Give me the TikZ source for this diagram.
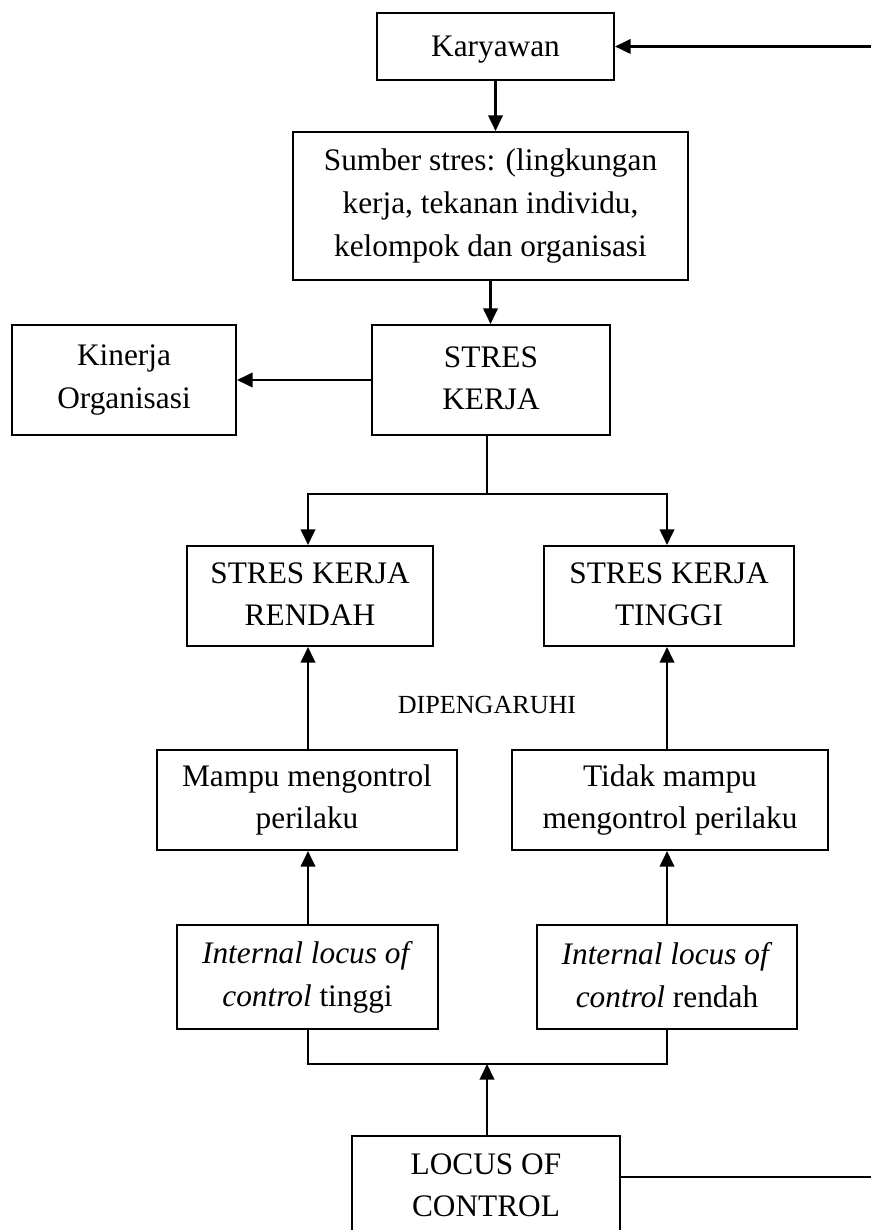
\documentclass[tikz,border=0pt]{standalone}
\usepackage{fontspec}
\setmainfont{Liberation Serif}
\usepackage{tikz}
\usetikzlibrary{arrows.meta}
\usetikzlibrary{calc}

\def\px{0.383pt}
\def\thickness{0.8pt}
\tikzstyle{thick}=[line width=\thickness]
\tikzset{box/.style={draw, thick, rectangle, align=center, inner sep=0pt,
    font=\fontsize{12}{16.4}\selectfont,
    execute at begin node={\rule{0pt}{10pt}},
    execute at end node={\rule[-1.5pt]{0pt}{1.5pt}}}}
\tikzset{arrow/.style={thick, -{Triangle[length=6pt,width=5.6pt]}}}

\begin{document}
\begin{tikzpicture}[x=\px, y=-\px] %% 1 unit = 1 px of the figure

\useasboundingbox (0,0) rectangle (871,1230);

%% boxes
\node [box, minimum width=237*\px, minimum height=67*\px] (karyawan) at (495.5,46.5) {Karyawan};
\node [box, minimum width=395*\px, minimum height=148*\px] (sumber) at (490.5,206) {Sumber stres: (lingkungan\\kerja, tekanan individu,\\kelompok dan organisasi};
\node [box, minimum width=238*\px, minimum height=110*\px] (stres) at (491,380) {STRES\\KERJA};
\node [box, minimum width=224*\px, minimum height=110*\px] (kinerja) at (124,380) {Kinerja\\Organisasi};
\node [box, minimum width=246*\px, minimum height=100*\px] (rendah) at (310,596) {STRES KERJA\\RENDAH};
\node [box, minimum width=250*\px, minimum height=100*\px] (tinggi) at (669,596) {STRES KERJA\\TINGGI};
\node [font=\fontsize{10}{12}\selectfont] (dipengaruhi) at (487,705) {DIPENGARUHI};
\node [box, minimum width=300*\px, minimum height=100*\px] (mampu) at (307,800) {Mampu mengontrol\\perilaku};
\node [box, minimum width=316*\px, minimum height=100*\px] (tidak) at (670,800) {Tidak mampu\\mengontrol perilaku};
\node [box, minimum width=261*\px, minimum height=104*\px] (int_tinggi) at (307.5,977) {\textit{Internal locus of}\\\textit{control} tinggi};
\node [box, minimum width=260*\px, minimum height=104*\px] (int_rendah) at (667,977) {\textit{Internal locus of}\\\textit{control} rendah};
\node [box, minimum width=268*\px, minimum height=102*\px] (locus) at (486,1187) {LOCUS OF\\CONTROL};

%% free ends and junctions
\coordinate (top_in) at (871,46.5);
\coordinate (right_out) at (871,1177);
\coordinate (branch) at (487,494);
\coordinate (join) at (487,1064);

%% connectors
\draw[arrow] (top_in) to (karyawan.east);
\draw[arrow] (karyawan.south) to (karyawan.south |- sumber.north);
\draw[arrow] (sumber.south) to (sumber.south |- stres.north);
\draw[arrow] (stres.west) to (kinerja.east);
\draw[thick] (stres.south -| branch) to (branch);
\draw[arrow] (branch) -| (308,0 |- rendah.north);
\draw[arrow] (branch) -| (667,0 |- tinggi.north);
\draw[arrow] (mampu.north -| 308,0) to (308,0 |- rendah.south);
\draw[arrow] (tidak.north -| 667,0) to (667,0 |- tinggi.south);
\draw[arrow] (int_tinggi.north -| 308,0) to (308,0 |- mampu.south);
\draw[arrow] (int_rendah.north -| 667,0) to (667,0 |- tidak.south);
\draw[thick] (int_tinggi.south -| 308,0) |- (join) -| (int_rendah.south -| 667,0);
\draw[arrow] (locus.north -| join) to (join);
\draw[thick] (locus.east |- right_out) to (right_out);

\end{tikzpicture}
\end{document}
